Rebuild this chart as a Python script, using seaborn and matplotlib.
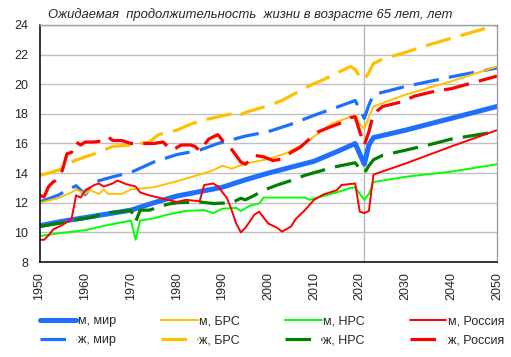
import matplotlib
matplotlib.use('Agg')
import matplotlib.pyplot as plt
import seaborn as sns

# Expected life span at 65, by group
m_world_years = [1950, 1955, 1960, 1965, 1970, 1975, 1980, 1985, 1990, 1995, 2000, 2005, 2010,
                 2015, 2019, 2020, 2021, 2022, 2023, 2030, 2040, 2050]
m_world = [10.45, 10.75, 11.0, 11.25, 11.5, 12.0, 12.45, 12.75, 13.05, 13.55, 14.0, 14.4, 14.8,
           15.45, 16.0, 15.3, 14.6, 15.9, 16.4, 16.9, 17.7, 18.5]

f_world_years = [1950, 1954, 1957, 1958, 1960, 1962, 1966, 1970, 1975, 1980, 1985, 1989, 1995,
                 2000, 2005, 2010, 2015, 2019, 2020, 2021, 2022, 2023, 2030, 2040, 2050]
f_world = [12.05, 12.5, 13.0, 13.15, 12.55, 13.4, 13.75, 14.05, 14.75, 15.25, 15.55, 16.0, 16.5,
           16.8, 17.3, 17.9, 18.45, 18.9, 18.3, 17.7, 18.6, 19.3, 19.85, 20.5, 21.1]

m_brs_years = [1950, 1954, 1957, 1958, 1960, 1961, 1963, 1964, 1965, 1968, 1970, 1975, 1980,
               1985, 1988, 1990, 1992, 1995, 2000, 2004, 2008, 2011, 2014, 2017, 2019, 2020,
               2021, 2022, 2023, 2030, 2040, 2050]
m_brs = [12.0, 12.3, 12.7, 12.9, 12.6, 12.85, 12.6, 12.9, 12.6, 12.6, 12.9, 13.05, 13.45,
         13.9, 14.2, 14.5, 14.3, 14.65, 14.95, 15.35, 16.0, 16.7, 17.35, 17.7, 17.9, 17.3,
         17.0, 17.8, 18.5, 19.3, 20.2, 21.2]

f_brs_years = [1950, 1952, 1955, 1956, 1960, 1962, 1966, 1970, 1974, 1976, 1980, 1983, 1986,
               1989, 1992, 1993, 1995, 2000, 2003, 2006, 2009, 2012, 2015, 2018, 2019, 2020,
               2021, 2022, 2023, 2025, 2030, 2035, 2040, 2050]
f_brs = [13.85, 14.0, 14.3, 14.65, 15.1, 15.3, 15.8, 15.9, 16.1, 16.6, 16.9, 17.3, 17.6,
         17.8, 18.0, 17.8, 18.1, 18.55, 18.9, 19.4, 19.9, 20.3, 20.75, 21.2, 21.0, 20.5,
         20.3, 20.8, 21.4, 21.7, 22.15, 22.65, 23.1, 24.0]

m_nrs_years = [1950, 1955, 1960, 1965, 1970, 1971, 1972, 1975, 1978, 1982, 1986, 1988, 1990,
               1993, 1994, 1996, 1998, 1999, 2008, 2009, 2012, 2015, 2018, 2019, 2020, 2021,
               2022, 2023, 2030, 2040, 2050]
m_nrs = [9.75, 9.97, 10.15, 10.5, 10.8, 9.5, 10.8, 10.95, 11.2, 11.45, 11.5, 11.3, 11.6,
         11.65, 11.45, 11.8, 11.95, 12.35, 12.35, 12.2, 12.45, 12.7, 13.0, 13.05, 12.6, 12.2,
         12.6, 13.4, 13.75, 14.1, 14.6]

f_nrs_years = [1950, 1955, 1957, 1962, 1964, 1968, 1970, 1971, 1972, 1974, 1976, 1978, 1980,
               1985, 1988, 1992, 1994, 1995, 1997, 1999, 2002, 2005, 2008, 2012, 2015, 2019,
               2020, 2021, 2022, 2023, 2025, 2030, 2035, 2040, 2050]
f_nrs = [10.4, 10.65, 10.8, 11.05, 11.3, 11.4, 11.5, 10.7, 11.5, 11.5, 11.7, 11.9, 12.0,
         12.05, 11.95, 12.0, 12.3, 12.2, 12.5, 12.85, 13.2, 13.5, 13.85, 14.2, 14.45, 14.7,
         14.3, 14.0, 14.5, 14.9, 15.2, 15.55, 15.9, 16.3, 16.8]

m_rus_years = [1950, 1951, 1952, 1953, 1955, 1957, 1958, 1959, 1960, 1962, 1963, 1964, 1966,
               1967, 1969, 1971, 1972, 1974, 1976, 1978, 1980, 1982, 1985, 1986, 1988, 1989,
               1991, 1992, 1993, 1994, 1995, 1997, 1998, 2000, 2002, 2003, 2005, 2006, 2008,
               2010, 2012, 2015, 2016, 2019, 2020, 2021, 2022, 2023, 2030, 2040, 2050]
m_rus = [9.5, 9.5, 9.8, 10.2, 10.5, 10.9, 12.5, 12.35, 12.85, 13.2, 13.3, 13.1, 13.3,
         13.5, 13.25, 13.1, 12.7, 12.5, 12.35, 12.2, 12.05, 12.2, 12.1, 13.2, 13.3, 13.1,
         12.3, 11.5, 10.6, 10.0, 10.3, 11.2, 11.4, 10.6, 10.3, 10.05, 10.4, 10.9, 11.5,
         12.2, 12.55, 12.85, 13.2, 13.3, 11.4, 11.3, 11.45, 13.9, 14.65, 15.8, 16.9]

f_rus_years = [1950, 1951, 1952, 1953, 1954, 1955, 1956, 1957, 1958, 1959, 1960, 1962, 1964,
               1965, 1966, 1968, 1970, 1972, 1975, 1977, 1978, 1979, 1981, 1983, 1984, 1985,
               1987, 1988, 1989, 1990, 1992, 1994, 1995, 1997, 1999, 2001, 2003, 2005, 2007,
               2009, 2011, 2013, 2016, 2018, 2019, 2020, 2021, 2022, 2023, 2025, 2029, 2032,
               2036, 2040, 2050]
f_rus = [12.5, 12.4, 13.1, 13.4, 13.6, 14.2, 15.3, 15.4, 16.1, 15.9, 16.1, 16.1, 16.2,
         16.45, 16.2, 16.2, 16.0, 16.0, 16.0, 16.1, 15.8, 15.55, 15.9, 15.9, 15.8, 15.5,
         16.3, 16.45, 16.6, 16.2, 15.6, 14.75, 14.6, 15.2, 15.1, 14.85, 14.95, 15.4, 15.75,
         16.3, 16.8, 17.05, 17.4, 17.75, 17.8, 16.8, 15.9, 16.8, 18.0, 18.5, 18.8, 19.2,
         19.5, 19.7, 20.55]

sns.set_style('white')
plt.rcParams['font.family'] = ['Liberation Sans', 'DejaVu Sans']

fig = plt.figure(figsize=(5.11, 3.57), dpi=100)
ax = fig.add_axes([0.0773, 0.2661, 0.8953, 0.6639])

long_dash = (0, (8, 3.2))
series = [
    (m_world_years, m_world, 'м, мир', '#1f6fff', 3.6, '-'),
    (f_world_years, f_world, 'ж, мир', '#1f6fff', 2.3, long_dash),
    (m_brs_years, m_brs, 'м, БРС', '#ffc000', 1.4, '-'),
    (f_brs_years, f_brs, 'ж, БРС', '#ffc000', 2.3, long_dash),
    (m_nrs_years, m_nrs, 'м, НРС', '#00ff00', 1.4, '-'),
    (f_nrs_years, f_nrs, 'ж, НРС', '#008000', 2.3, long_dash),
    (m_rus_years, m_rus, 'м, Россия', '#ff0000', 1.4, '-'),
    (f_rus_years, f_rus, 'ж, Россия', '#ff0000', 2.3, long_dash),
]

for yrs, vals, lbl, col, lw, ls in series:
    sns.lineplot(x=yrs, y=vals, ax=ax, color=col, linewidth=lw, linestyle=ls,
                 label=lbl, estimator=None, legend=False)

ax.set_xlim(1950, 2050)
ax.set_ylim(8, 24)
ax.set_xticks(range(1950, 2051, 10))
ax.set_yticks(range(8, 25, 2))
ax.tick_params(axis='x', labelrotation=90, labelsize=9, length=0, pad=7)
ax.tick_params(axis='y', labelsize=9, length=0, pad=8)
ax.set_xlabel('')
ax.set_ylabel('')

ax.yaxis.grid(True, color='#c0c0c0', linewidth=1)
ax.xaxis.grid(False)
ax.axvline(2021, color='#b8b8b8', linewidth=1, zorder=0)
ax.set_axisbelow(True)

for side in ['left', 'bottom']:
    ax.spines[side].set_color('black')
    ax.spines[side].set_linewidth(1.1)
for side in ['top', 'right']:
    ax.spines[side].set_color('#a0a0a0')
    ax.spines[side].set_linewidth(1)

fig.text(48 / 511, 1 - 15 / 357, 'Ожидаемая  продолжительность  жизни в возрасте 65 лет, лет',
         fontsize=9.4, style='italic', va='center', ha='left')

handles, labels = ax.get_legend_handles_labels()
ax.legend(handles, labels, ncol=4, loc='upper left',
          bbox_to_anchor=(40 / 511, 1 - 315 / 357), bbox_transform=fig.transFigure,
          frameon=False, fontsize=9, handlelength=2.9, handletextpad=0.15,
          columnspacing=3.6, labelspacing=0.6, borderpad=0, borderaxespad=0)

fig.savefig('out.png', dpi=100)
